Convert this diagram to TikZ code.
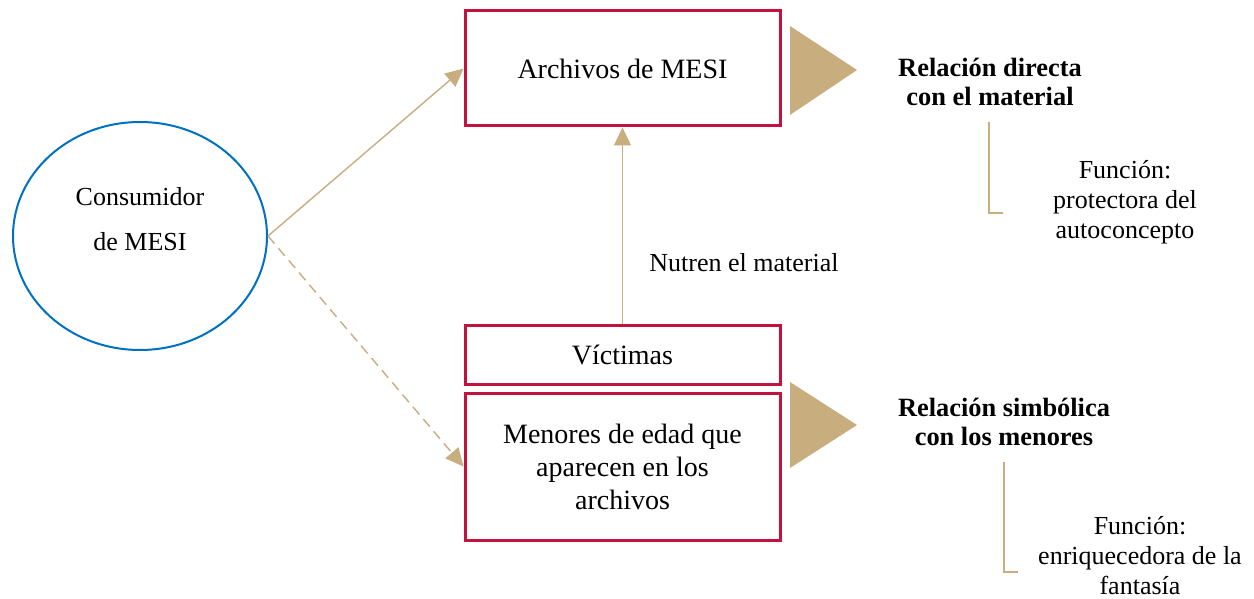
\documentclass[tikz,border=0pt]{standalone}
\usepackage{fontspec}
\setmainfont{Liberation Serif}
\usetikzlibrary{shapes.geometric,arrows.meta}

\definecolor{caja}{RGB}{196,18,62}
\definecolor{azul}{RGB}{0,112,192}
\definecolor{arena}{RGB}{200,173,127}

\tikzset{
	caja/.style={draw=caja, line width=1.5pt, minimum width=157.5pt, align=center, font=\fontsize{14}{16.5}\selectfont},
	flecha/.style={draw=arena, line width=0.7pt, -{Triangle[length=9pt,width=8.5pt]}},
	titulo/.style={align=center, font=\fontsize{13.2}{14.7}\selectfont\bfseries},
	nota/.style={align=center, font=\fontsize{13}{15}\selectfont}
}

\begin{document}
\begin{tikzpicture}[x=0.5pt,y=-0.5pt]
\useasboundingbox (0,0) rectangle (1254,599);

\node[ellipse, draw=azul, line width=1pt, minimum width=127pt, minimum height=114pt] (consumidor) at (140,236) {};
\node[nota, font=\fontsize{13}{22.5}\selectfont] (consumidortexto) at (140,219) {Consumidor\\de MESI};

\node[caja, minimum height=57.5pt] (archivos) at (622.5,68.5) {Archivos de MESI};
\node[caja, minimum height=29.5pt] (victimas) at (622.5,354.5) {Víctimas};
\node[caja, minimum height=73.5pt] (menores) at (622.5,466.5) {Menores de edad que\\aparecen en los\\archivos};

\fill[arena] (790,26) -- (857,70) -- (790,115) -- cycle;
\fill[arena] (790,382) -- (857,425) -- (790,468) -- cycle;

\node[titulo] (directa) at (990,82) {Relación directa\\con el material};
\node[titulo] (simbolica) at (1004,422) {Relación simbólica\\con los menores};

\node[nota] (protectora) at (1125,202) {Función:\\protectora del\\autoconcepto};
\node[nota] (enriquecedora) at (1140,556) {Función:\\enriquecedora de la\\fantasía};

\draw[arena, line width=0.6pt] (989,122) |- (1003,213);
\draw[arena, line width=0.6pt] (1004,462) |- (1018,572);

\draw[flecha] (consumidor.east) -- (archivos.west);
\draw[flecha, dashed, dash pattern=on 5pt off 3pt] (consumidor.east) -- (menores.west);
\draw[flecha] (victimas.north) -- (archivos.south);
\node[nota] (nutren) at (744,263) {Nutren el material};
\end{tikzpicture}
\end{document}
